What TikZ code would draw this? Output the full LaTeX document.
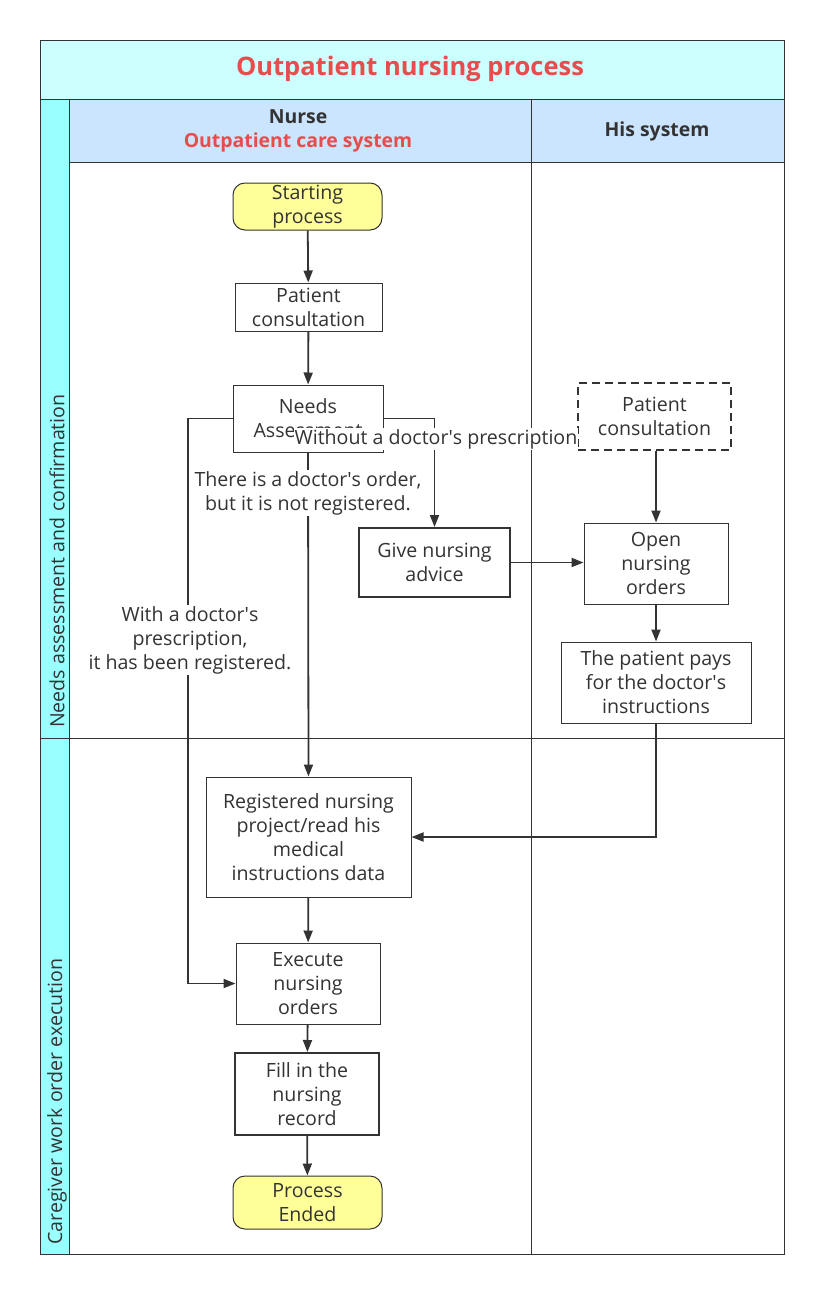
\documentclass[tikz,border=0pt]{standalone}
\usepackage{fontspec}
\setmainfont{Open Sans}
\usetikzlibrary{arrows.meta}
\definecolor{ln}{HTML}{333333}
\definecolor{titlebg}{HTML}{CCFFFF}
\definecolor{lanebg}{HTML}{99FFFF}
\definecolor{headbg}{HTML}{CCE5FF}
\definecolor{redtxt}{HTML}{E84C4C}
\definecolor{yel}{HTML}{FFFF99}
\newcommand{\ap}{\textquotesingle}
\begin{document}
\begin{tikzpicture}[x=1pt,y=-1pt,
  txt/.style={font=\fontsize{19.6}{24}\selectfont, text=ln},
  box/.style={txt, draw=ln, line width=1pt, fill=white, align=center, inner sep=0pt},
  thickbox/.style={box, line width=2pt},
  term/.style={box, fill=yel, rounded corners=12pt},
  arr/.style={draw=ln, line width=1.8pt, -{Triangle[length=12pt,width=9pt]}},
  lbl/.style={txt, fill=white, align=center, inner sep=1pt},
  frame/.style={draw=ln, line width=0.8pt}
]
\useasboundingbox (0,0) rectangle (820,1290);
\fill[white] (0,0) rectangle (820,1290);
% pool
\filldraw[frame, fill=titlebg] (40,40) rectangle (784,99);
\filldraw[frame, fill=lanebg] (40,99) rectangle (69,738);
\filldraw[frame, fill=lanebg] (40,738) rectangle (69,1254);
\filldraw[frame, fill=headbg] (69,99) rectangle (531,162);
\filldraw[frame, fill=headbg] (531,99) rectangle (784,162);
\draw[frame] (69,162) rectangle (784,1254);
\draw[frame] (531,162) -- (531,1254);
\draw[frame] (69,738) -- (784,738);
\node[font=\fontsize{25.5}{30}\selectfont\bfseries, text=redtxt] (title) at (410,69) {Outpatient nursing process};
\node[align=center, inner sep=0pt, font=\fontsize{19.4}{24}\selectfont\bfseries] (hnurse) at (298,131) {\textcolor{ln}{Nurse}\\\textcolor{redtxt}{Outpatient care system}};
\node[font=\fontsize{19.4}{24}\selectfont\bfseries, text=ln] (hhis) at (657,131) {His system};
\node[txt, rotate=90, anchor=west, inner sep=0pt] (lane1) at (57,728) {Needs assessment and confirmation};
\node[txt, rotate=90, anchor=west, inner sep=0pt] (lane2) at (57,1245) {Caregiver work order execution};
% nodes
\node[term, minimum width=149pt, minimum height=47pt] (start) at (307.5,206.5) {Starting\\process};
\node[box, minimum width=147pt, minimum height=48pt] (pc) at (308.5,307) {Patient\\consultation};
\node[box, minimum width=150pt, minimum height=67pt] (na) at (308,418.5) {Needs\\Assessment};
\node[thickbox, minimum width=151pt, minimum height=69pt] (give) at (434.5,562.5) {Give nursing\\advice};
\node[thickbox, dashed, dash pattern=on 8pt off 5pt, minimum width=153pt, minimum height=67pt] (pc2) at (654.5,416.5) {Patient\\consultation};
\node[box, minimum width=144pt, minimum height=81pt] (open) at (656,563.5) {Open\\nursing\\orders};
\node[box, minimum width=190pt, minimum height=81pt] (pays) at (656,682.5) {The patient pays\\for the doctor\ap s\\instructions};
\node[box, minimum width=205pt, minimum height=120pt] (reg) at (308.5,837) {Registered nursing\\project/read his\\medical\\instructions data};
\node[box, minimum width=144pt, minimum height=81pt] (exec) at (308,983.5) {Execute\\nursing\\orders};
\node[thickbox, minimum width=144pt, minimum height=82pt] (fill) at (307,1094) {Fill in the\\nursing\\record};
\node[term, minimum width=149pt, minimum height=53pt] (end) at (307.5,1202.5) {Process\\Ended};
\coordinate (lc) at (188,983.5);
% edges
\draw[arr] (start) -- (pc);
\draw[arr] (pc) -- (na);
\draw[arr] (na.east) -| (give.north);
\draw[arr] (na.west) -| (lc) -- (exec.west);
\draw[arr] (na.south) -- (reg.north);
\draw[arr] (give.east) -- (give.east -| open.west);
\draw[arr] (pc2.south -| open.north) -- (open.north);
\draw[arr] (open) -- (pays);
\draw[arr] (pays.south) |- (reg.east);
\draw[arr] (reg) -- (exec);
\draw[arr] (exec) -- (fill);
\draw[arr] (fill) -- (end);
% labels
\node[lbl] (l1) at (436,439) {Without a doctor\ap s prescription};
\node[lbl] (l2) at (308,493) {There is a doctor\ap s order,\\but it is not registered.};
\node[lbl] (l3) at (190,640) {With a doctor\ap s\\prescription,\\it has been registered.};
\end{tikzpicture}
\end{document}
